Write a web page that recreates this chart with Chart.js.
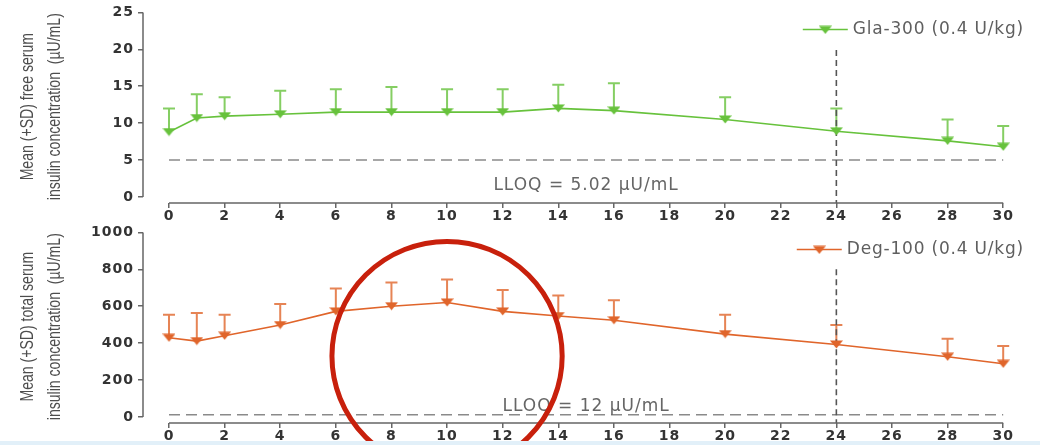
<!DOCTYPE html>
<html>
<head>
<meta charset="utf-8">
<script src="https://cdn.jsdelivr.net/npm/chart.js@4.4.1/dist/chart.umd.min.js"></script>
<style>
    html, body { margin: 0; padding: 0; background: #fff; width: 1040px; height: 445px; overflow: hidden; }
    canvas { position: absolute; left: 0; }
    #free { top: 0; }
    #total { top: 220px; }
    #edge { position: absolute; left: 0; top: 441px; width: 1040px; height: 4px; background: #e2f0f9; }
</style>
</head>
<body>
<canvas id="free" width="1040" height="225"></canvas>
<canvas id="total" width="1040" height="225"></canvas>
<div id="edge"></div>
<script>
// Sampling times (h) and tick labels
const hours = [0, 1, 2, 4, 6, 8, 10, 12, 14, 16, 20, 24, 28, 30];
const hourTicks = [0, 2, 4, 6, 8, 10, 12, 14, 16, 18, 20, 22, 24, 26, 28, 30];

// Free serum insulin, Gla-300 (mean and mean + SD, µU/mL)
const glaMean = [8.8, 10.7, 10.95, 11.2, 11.5, 11.5, 11.5, 11.5, 12.0, 11.7, 10.5, 8.9, 7.6, 6.8];
const glaUpper = [12.0, 13.9, 13.5, 14.4, 14.6, 14.9, 14.6, 14.6, 15.2, 15.4, 13.5, 12.0, 10.5, 9.6];
const freeTicks = [0, 5, 10, 15, 20, 25];
const freeLloq = 5.02;

// Total serum insulin, Deg-100 (mean and mean + SD, µU/mL)
const degMean = [429, 411, 440, 498, 572, 600, 620, 572, 547, 524, 449, 393, 326, 288];
const degUpper = [554, 563, 554, 612, 696, 728, 745, 688, 658, 632, 554, 498, 424, 384];
const totalTicks = [0, 200, 400, 600, 800, 1000];
const totalLloq = 12;

// Dashed 24 h cut-off marker
const cutoffHour = 24;

// Flat downward triangle used as point marker
const makeMarker = (color) => {
    const c = document.createElement('canvas');
    c.width = 13;
    c.height = 9;
    const g = c.getContext('2d');
    g.fillStyle = color;
    g.beginPath();
    g.moveTo(0, 0.5);
    g.lineTo(13, 0.5);
    g.lineTo(6.5, 8.5);
    g.closePath();
    g.fill();
    return c;
};

// Error bars, axis lines, titles, legend, LLOQ text and the red circle
const panelDecor = {
    id: 'panelDecor',
    beforeDraw(chart) {
        // wide tick lettering like the original
        chart.ctx.letterSpacing = '1px';
    },
    beforeDatasetsDraw(chart) {
        const o = chart.options.plugins.panelDecor;
        const { ctx, scales: { x, y } } = chart;
        ctx.save();
        ctx.strokeStyle = o.barColor;
        ctx.lineWidth = 2;
        o.mean.forEach((m, i) => {
            const px = x.getPixelForValue(o.hours[i]);
            const y0 = y.getPixelForValue(m);
            const y1 = y.getPixelForValue(o.upper[i]);
            ctx.beginPath();
            ctx.moveTo(px, y0);
            ctx.lineTo(px, y1);
            ctx.moveTo(px - 6, y1);
            ctx.lineTo(px + 6, y1);
            ctx.stroke();
        });
        ctx.restore();
    },
    afterDraw(chart) {
        const o = chart.options.plugins.panelDecor;
        const { ctx, chartArea, scales: { x, y } } = chart;
        ctx.save();

        // axis lines only over the data ranges
        ctx.strokeStyle = '#666';
        ctx.lineWidth = 1.5;
        ctx.beginPath();
        ctx.moveTo(chartArea.left, y.getPixelForValue(o.yTop));
        ctx.lineTo(chartArea.left, y.getPixelForValue(0));
        ctx.moveTo(x.getPixelForValue(0), chartArea.bottom);
        ctx.lineTo(x.getPixelForValue(30), chartArea.bottom);
        ctx.stroke();

        // y title, condensed
        ctx.letterSpacing = '0px';
        ctx.fillStyle = '#4d4d4d';
        ctx.font = '19px "Liberation Sans", sans-serif';
        ctx.textAlign = 'center';
        ctx.textBaseline = 'middle';
        const midY = (chartArea.top + chartArea.bottom) / 2 - 1;
        o.title.forEach((line, i) => {
            ctx.save();
            ctx.translate(28 + i * 27, midY);
            ctx.rotate(-Math.PI / 2);
            ctx.scale(0.74, 1);
            ctx.fillText(line, 0, 0);
            ctx.restore();
        });

        // legend
        const ds = chart.data.datasets[0];
        ctx.font = '17px "DejaVu Sans", sans-serif';
        ctx.letterSpacing = '0.8px';
        ctx.textAlign = 'left';
        ctx.fillStyle = '#5f5f5f';
        const tw = ctx.measureText(ds.label).width;
        const ly = chartArea.top + 17;
        const tx = chartArea.right - 7 - tw;
        ctx.fillText(ds.label, tx, ly);
        ctx.strokeStyle = ds.borderColor;
        ctx.lineWidth = 1.5;
        ctx.beginPath();
        ctx.moveTo(tx - 50, ly);
        ctx.lineTo(tx - 5, ly);
        ctx.stroke();
        ctx.drawImage(ds.pointStyle, tx - 34, ly - 4);

        // LLOQ label
        ctx.textAlign = 'center';
        ctx.fillStyle = '#666';
        ctx.font = '17px "DejaVu Sans", sans-serif';
        ctx.letterSpacing = '1px';
        ctx.fillText(o.lloqText, x.getPixelForValue(15), y.getPixelForValue(o.lloqTextY));

        // red circle
        if (o.circle) {
            const c = o.circle;
            const cx = x.getPixelForValue(c.x);
            const cy = y.getPixelForValue(c.y);
            const rx = x.getPixelForValue(c.x + c.rx) - cx;
            const ry = cy - y.getPixelForValue(c.y + c.ry);
            ctx.strokeStyle = '#c8200c';
            ctx.lineWidth = 5;
            ctx.beginPath();
            ctx.ellipse(cx, cy, rx, ry, 0, 0, Math.PI * 2);
            ctx.stroke();
        }
        ctx.restore();
    }
};

const tickFont = { family: '"DejaVu Sans", sans-serif', size: 14, weight: 'bold' };

const makePanel = (id, p) => {
    const marker = makeMarker(p.color);
    const chartconfig = {
        type: 'line',
        data: {
            datasets: [
                {
                    label: p.label,
                    data: hours.map((h, i) => ({ x: h, y: p.mean[i] })),
                    borderColor: p.color,
                    backgroundColor: p.color,
                    borderWidth: 1.6,
                    pointStyle: marker,
                    pointRadius: 6,
                    lineTension: 0,
                    order: 1
                },
                {
                    label: 'LLOQ',
                    data: [{ x: 0, y: p.lloq }, { x: 30, y: p.lloq }],
                    borderColor: '#8a8a8a',
                    borderDash: [11, 6],
                    borderWidth: 1.4,
                    pointRadius: 0,
                    order: 3
                },
                {
                    label: 'cutoff',
                    data: [{ x: cutoffHour, y: p.cutTop }, { x: cutoffHour, y: p.yMin }],
                    borderColor: '#555',
                    borderDash: [6, 4],
                    borderWidth: 1.6,
                    pointRadius: 0,
                    order: 2
                }
            ]
        },
        options: {
            responsive: false,
            animation: false,
            layout: { padding: { top: 12, right: 9, left: 0, bottom: 0 } },
            scales: {
                x: {
                    type: 'linear',
                    min: -0.935,
                    max: 31,
                    afterBuildTicks: (s) => { s.ticks = hourTicks.map(v => ({ value: v })); },
                    afterFit: (s) => { s.height = 22; },
                    grid: { drawOnChartArea: false, drawTicks: true, tickLength: 5, color: '#666', lineWidth: 1.5 },
                    border: { display: false },
                    ticks: { font: tickFont, color: '#333', padding: 0, maxRotation: 0, callback: (v) => String(v) }
                },
                y: {
                    min: p.yMin,
                    max: p.yTop,
                    afterBuildTicks: (s) => { s.ticks = p.ticks.map(v => ({ value: v })); },
                    afterFit: (s) => { s.width = 143; },
                    grid: { drawOnChartArea: false, drawTicks: true, tickLength: 5, color: '#666', lineWidth: 1.5 },
                    border: { display: false },
                    ticks: { font: tickFont, color: '#333', padding: 4, callback: (v) => String(v) }
                }
            },
            plugins: {
                legend: { display: false },
                tooltip: { enabled: false },
                panelDecor: {
                    hours: hours,
                    mean: p.mean,
                    upper: p.upper,
                    barColor: p.barColor,
                    yTop: p.yTop,
                    title: p.title,
                    lloqText: p.lloqText,
                    lloqTextY: p.lloqTextY,
                    circle: p.circle
                }
            }
        },
        plugins: [panelDecor]
    };

    const canvas = document.getElementById(id);
    if (canvas) {
        new Chart(canvas, chartconfig);
    } else {
        console.error('Canvas element "' + id + '" not found');
    }
};

makePanel('free', {
    label: 'Gla-300 (0.4 U/kg)',
    color: '#67c23c',
    barColor: 'rgba(103,194,60,0.8)',
    mean: glaMean,
    upper: glaUpper,
    ticks: freeTicks,
    yMin: -0.81,
    yTop: 25,
    cutTop: 19.9,
    lloq: freeLloq,
    lloqText: 'LLOQ = 5.02 µU/mL',
    lloqTextY: 1.5,
    title: ['Mean (+SD) free serum', 'insulin concentration  (µU/mL)']
});

makePanel('total', {
    label: 'Deg-100 (0.4 U/kg)',
    color: '#e0652b',
    barColor: 'rgba(224,101,43,0.8)',
    mean: degMean,
    upper: degUpper,
    ticks: totalTicks,
    yMin: -32.6,
    yTop: 1000,
    cutTop: 800,
    lloq: totalLloq,
    lloqText: 'LLOQ = 12 µU/mL',
    lloqTextY: 55,
    title: ['Mean (+SD) total serum', 'insulin concentration  (µU/mL)'],
    circle: { x: 10, y: 330, rx: 4.14, ry: 621 }
});
</script>
</body>
</html>
